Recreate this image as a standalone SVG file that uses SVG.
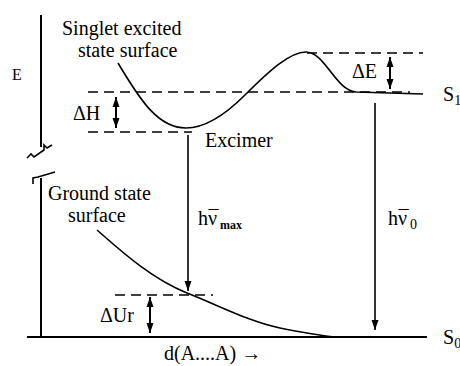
<svg xmlns="http://www.w3.org/2000/svg" width="460" height="366" viewBox="0 0 460 366">
<defs>
<style>
.ln{stroke:#000;fill:none;stroke-width:1.6}
.ax{stroke:#000;fill:none;stroke-width:2}
.dash{stroke:#000;fill:none;stroke-width:1.5;stroke-dasharray:10 6}
.arr{stroke:#000;fill:none;stroke-width:1.6;marker-end:url(#ah)}
.darr{stroke:#000;fill:none;stroke-width:2;marker-end:url(#ah);marker-start:url(#ahs)}
.t{font-family:'Liberation Serif','Times New Roman',serif;font-size:20px;fill:#000}
.sub{font-size:14px}
.subm{font-size:12px;font-weight:bold}
</style>
<marker id="ah" viewBox="0 0 10 10" refX="10" refY="5" markerWidth="10" markerHeight="10" markerUnits="userSpaceOnUse" orient="auto"><path d="M0,1.5 L10,5 L0,8.5 Z" fill="#000"/></marker>
<marker id="ahs" viewBox="0 0 10 10" refX="0" refY="5" markerWidth="10" markerHeight="10" markerUnits="userSpaceOnUse" orient="auto"><path d="M10,1.5 L0,5 L10,8.5 Z" fill="#000"/></marker>
</defs>

<g id="axes">
<path class="ax" d="M41,15 L41,147"/>
<path class="ln" d="M27,158 L31,154 L34,157 L44,150 L44,145 L47,148 L52,145"/>
<path class="ln" d="M33,184 L33,178 L38,177 L55,172"/>
<path class="ax" d="M41,178 L41,337"/>
<path class="ax" d="M27,337 L427,337"/>
<text class="t" x="12" y="80" style="font-size:16px">E</text>
<text class="t" x="164" y="360">d(A....A) →</text>
</g>

<g id="singlet-surface">
<path class="ln" d="M118,63 C140,100 158,128 186,128 C205,128 225,115 245,95 C270,70 290,52 306,52 C325,52 335,90 356,92 L423,94"/>
<text class="t" x="62" y="35">Singlet excited</text>
<text class="t" x="78" y="57">state surface</text>
<text class="t" x="443" y="101">S<tspan class="sub" dy="4">1</tspan></text>
</g>

<g id="ground-surface">
<path class="ln" d="M97,230 C120,250 150,278 187,293 C220,306 250,322 280,328 C300,332 315,335 335,337"/>
<text class="t" x="48" y="200">Ground state</text>
<text class="t" x="68" y="222">surface</text>
<text class="t" x="443" y="344">S<tspan class="sub" dy="4">0</tspan></text>
</g>

<g id="excimer">
<text class="t" x="205" y="147">Excimer</text>
</g>

<g id="levels">
<path class="dash" d="M88,92 L410,92"/>
<path class="dash" d="M307,53 L423,53"/>
<path class="dash" d="M88,132 L192,132"/>
<path class="dash" d="M115,295 L213,295"/>
</g>

<g id="connectors">
<path class="darr" d="M116,97 L116,128"/>
<path class="darr" d="M390,57 L390,89"/>
<path class="darr" d="M150,297 L150,333"/>
<path class="arr" d="M188,135 L188,291"/>
<path class="arr" d="M375,103 L375,330"/>
</g>

<g id="labels">
<text class="t" x="73" y="120">ΔH</text>
<text class="t" x="352" y="78">ΔE</text>
<text class="t" x="100" y="322">ΔUr</text>
<text class="t" x="198" y="225">hν<tspan dx="-8.5">¯</tspan><tspan class="subm" dx="1.5" dy="4">max</tspan></text>
<text class="t" x="388" y="225">hν<tspan dx="-8.5">¯</tspan><tspan class="sub" dx="1.5" dy="4">0</tspan></text>
</g>
</svg>
